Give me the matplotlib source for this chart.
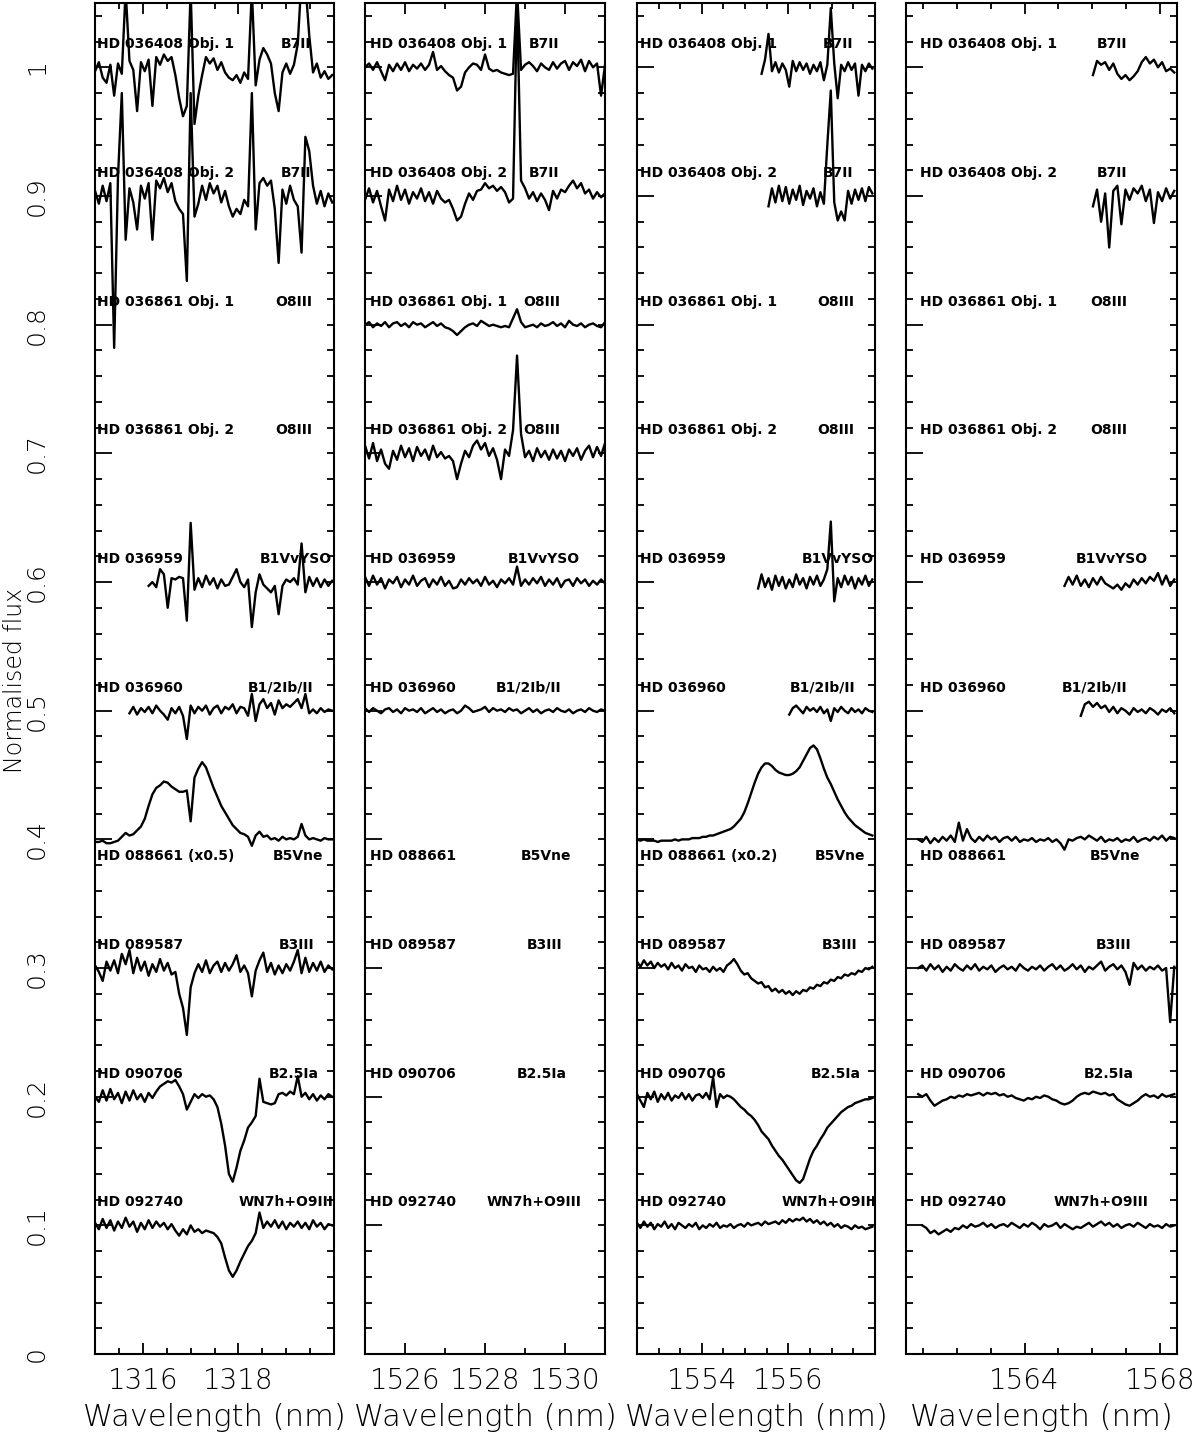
import numpy as np
import matplotlib.pyplot as plt
import matplotlib.transforms as mtransforms
from matplotlib.ticker import FixedLocator, MultipleLocator, FuncFormatter

plt.rcParams['font.family'] = ['DejaVu Sans']
plt.rcParams['font.weight'] = 'light'

# offsets of the stacked spectra and their labels
levels = [1.0, 0.9, 0.8, 0.7, 0.6, 0.5, 0.4, 0.3, 0.2, 0.1]
stars = ['HD 036408 Obj. 1', 'HD 036408 Obj. 2', 'HD 036861 Obj. 1', 'HD 036861 Obj. 2',
         'HD 036959', 'HD 036960', 'HD 088661', 'HD 089587', 'HD 090706', 'HD 092740']
sptypes = ['B7II', 'B7II', 'O8III', 'O8III', 'B1VvYSO', 'B1/2Ib/II', 'B5Vne', 'B3III',
           'B2.5Ia', 'WN7h+O9III']

# wavelength grids: start, step (nm) ; fluxes below are deviations in units of 0.001
panel_xlim = [(1315, 1320), (1525, 1531), (1552.5, 1558), (1560.5, 1568.5)]
panel_lam0 = [1315.0, 1525.0, 1552.5, 1560.5]
panel_step = [0.08, 0.1, 0.08, 0.12]
panel_major = [[1316, 1318], [1526, 1528, 1530], [1554, 1556], [1564, 1568]]
panel_minor = [0.5, 1.0, 0.5, 1.0]
panel_note = [' (x0.5)', '', ' (x0.2)', '']

# ---- panel 1 (1315-1320 nm)
p1_036408_1 = [-3, 4, -8, -12, 2, -22, 3, -5, 60, 5, -2, -34, 4, -3, 6, -30, 8, 2, 10, 5,
               8, -6, -24, -38, -30, 60, -44, -22, -6, 8, 3, 7, -2, 4, -4, -8, -10, -6, -12, -4,
               -9, 60, -14, 6, 15, 10, 3, -20, -34, -4, 3, -5, 2, 18, 70, 65, 25, -4, 3, -8,
               -3, -9, -6]
p1_036408_2 = [4, -6, 8, -4, 10, -118, 15, 80, -34, 6, -5, -26, 8, -2, 10, -34, 12, 6, 14, 3,
               10, -4, -10, -14, -66, 80, -16, -6, 8, -3, 10, 2, 8, -5, 4, -8, -16, -10, -14, -3,
               -8, 80, -26, 10, 14, 8, 12, -10, -52, 5, -6, 8, -3, -8, -44, 46, 35, 8, -6, 4,
               -8, 2, -5]
p1_036959 = [-3, 0, -4, 10, 6, -20, 3, 2, 4, 3, -30, 46, -6, 3, -4, 5, -2, 3, -5, 2,
             -3, -2, 4, 10, 0, -4, 2, -35, -8, 6, -2, -5, -8, -3, -25, -3, 2, 0, 3, -2,
             30, -8, 4, -3, 3, -4, 2, -3, 1]
p1_036960 = [-2, 3, -3, 2, -1, 3, -2, 4, 0, -3, -7, 2, -2, 3, -4, -22, 4, -2, 3, 0,
             4, -3, 2, 4, -2, 3, 1, 5, -2, 3, 2, -4, 13, -8, 5, 9, 2, 6, -3, 8,
             2, 5, 3, 6, 9, 2, 13, -2, 1, -2, 2, -1, 1, 0]
p1_088661 = [-2, -2, -1, -3, -3, -2, -1, 2, 5, 3, 4, 7, 10, 16, 26, 35, 40, 42, 45, 44,
             41, 39, 37, 37, 38, 14, 48, 55, 60, 56, 48, 40, 33, 26, 21, 16, 11, 8, 5, 4,
             2, -5, 3, 6, 2, 3, 0, 1, -1, 2, 0, 1, 0, 2, 12, 3, 0, 1, 0, -1, 1, 0, 0]
p1_089587 = [2, -3, -10, 5, -2, 6, -4, 11, 3, 14, -4, 8, -2, 5, -6, 3, -3, 7, -2, 4,
             -5, -3, -20, -31, -52, -15, -4, 3, -3, 6, -4, 2, 5, -3, 4, -2, 3, 10, -3, 2,
             -4, -22, -2, 6, 12, -3, 4, -5, 2, -4, 3, -2, 5, 14, -4, 8, -3, 4, -2, 5,
             -3, 2, -1]
p1_090706 = [0, -4, 5, -3, 6, -2, 3, -5, 4, -3, 5, -2, 2, -4, 3, -1, 4, 8, 10, 12,
             11, 13, 8, 2, -10, -4, 2, -1, 2, 0, 1, -2, -8, -21, -38, -60, -66, -55, -42, -34,
             -24, -20, -15, 14, -4, -5, -6, -5, 2, 3, 1, 4, 2, 16, 0, 3, -2, 2, -3, 1,
             -2, 2, 0]
p1_092740 = [2, -3, 5, -2, 4, -4, 3, -2, 6, -1, 3, -5, 2, -3, 4, -2, 3, -1, 2, -3,
             1, -4, -8, -3, -7, 0, -5, -3, -6, -4, -5, -6, -9, -14, -25, -35, -40, -35, -28, -22,
             -16, -12, -6, 10, -2, 3, -1, 4, -2, 3, -3, 2, -1, 3, -2, 2, -3, 4, -1, 2,
             -3, 1, 0]

# ---- panel 2 (1525-1531 nm)
p2_036408_1 = [0, 3, -2, 4, -3, -10, 2, -3, 3, -2, 4, -3, 2, -1, 3, -2, 2, 12, -2, 1,
               -3, -6, -8, -18, -15, -4, 0, 3, 2, -2, 10, -1, -3, -2, -4, -5, -6, -5, 60, -2,
               2, 4, 1, -3, 3, 0, -2, 4, -1, 3, 5, -2, 4, 1, 6, -3, 5, 0, 3, -22, 2]
p2_036408_2 = [-3, 6, -5, 4, -8, -19, 5, -4, 8, -3, 5, -6, 3, -2, 6, -4, 3, -6, 4, -2,
               -5, -3, -10, -19, -16, -6, 2, -3, 4, 5, 10, 6, 8, 4, 7, 3, -5, -2, 150, 12,
               6, -2, 3, -4, 2, -3, -11, 4, -2, 5, 3, 8, 12, 6, 10, 2, 5, -2, 3, -1, 2]
p2_036861_1 = [0, 2, -2, 1, -1, 2, -2, 1, 2, -1, 1, -2, 2, 0, 1, -2, 0, 2, -1, 1,
               -2, -3, -5, -8, -5, -2, 0, 1, -1, 3, 1, -1, 0, -1, -2, -1, -2, 5, 12, 2,
               -2, -1, 0, -2, 1, -1, 0, 2, -1, 1, -2, 3, 0, -1, 1, -2, 0, 1, -1, -2, 2]
p2_036861_2 = [6, -4, 8, -6, 3, -8, -12, 2, -5, 6, -3, 4, -6, 5, -2, 3, -5, 6, -3, 1,
               -4, -2, -6, -20, -8, 2, -3, 6, 10, 3, 8, -2, 4, -5, -20, 3, -2, 18, 76, 15,
               -3, 2, -6, 4, -3, 2, -5, 3, -4, 2, -6, 3, -2, 4, -5, 2, 6, -3, 5, -2, 8]
p2_036959 = [4, -3, 5, -2, 3, -5, 2, -1, 4, -4, 2, -2, 5, -3, 1, 3, -4, 2, -2, 4,
             -3, 1, -5, -4, 2, -2, 3, -1, 2, -3, 4, -2, 1, -4, 2, -1, 3, -2, 12, -3,
             2, -2, 3, -1, 4, -3, 2, -2, 3, -4, 1, 2, -3, 3, -1, 2, -3, 1, -2, 2, -1]
p2_036960 = [2, -1, 2, 0, -2, 1, 2, -1, 1, -2, 2, 0, 1, -1, 2, -2, 0, 2, -1, 1,
             -2, 0, 1, -2, 0, 4, 2, -1, 0, 1, 3, -1, 2, 0, 1, -1, 2, 0, 1, -2,
             0, 2, -1, 1, -2, 0, 1, -1, 2, 0, -1, 1, -2, 0, 1, -1, 2, 0, -1, 1, 0]

# ---- panel 3 (1552.5-1558 nm)
p3_036408_1 = [-5, 6, 26, -3, 4, -4, 3, -2, -15, 5, -3, 4, -2, 3, -5, 2, -3, 4, -10, 2,
               46, 3, -24, 2, -3, 4, -2, 3, -22, 2, -3, 3, -1]
p3_036408_2 = [-8, 6, -5, 8, -4, 7, -6, 5, -3, 8, -7, 4, -2, 6, -8, 3, -6, 40, 82, -5,
               -19, -12, -19, 4, -6, 5, -3, 6, -4, 7, 2]
p3_036959 = [-5, 6, -4, 3, -6, 5, -3, 4, -5, 2, -4, 6, -2, 3, -5, 4, -2, 5, -3, 2,
             10, 47, -15, 3, -4, 5, -2, 4, -5, 3, -2, 5, -3, 2]
p3_036960 = [-3, 2, 4, 1, -2, 3, 0, 2, -1, 3, -2, 1, -8, 2, -1, 3, 0, -2, 2, -1,
             1, -2, 2, 0, -1]
p3_088661 = [0, -1, 0, -1, -1, -1, -2, -1, -1, -1, -1, 0, -1, 0, 0, 0, 1, 1, 1, 2,
             2, 3, 3, 4, 5, 6, 7, 8, 10, 13, 16, 21, 28, 36, 44, 51, 56, 59, 59, 57,
             54, 52, 51, 50, 50, 51, 53, 56, 61, 66, 71, 73, 70, 63, 55, 48, 43, 37, 31, 26,
             21, 17, 14, 11, 9, 7, 5, 4, 3]
p3_089587 = [5, 1, 6, 2, 5, 0, 4, 1, 3, -1, 4, 0, 2, -2, 3, 0, 1, -3, 2, -1,
             0, -3, 1, -2, 0, -3, 2, 4, 7, 3, -2, -5, -4, -8, -10, -12, -11, -15, -14, -18,
             -16, -19, -17, -20, -18, -21, -18, -20, -17, -18, -15, -16, -13, -14, -11, -12, -9, -10, -7, -8,
             -5, -6, -4, -5, -2, -3, 0, -1, 1]
p3_090706 = [2, -3, -8, 3, -2, 4, -4, 2, -2, 3, -3, 1, -1, 3, -2, 2, -3, 1, 2, -1,
             3, -2, 15, -8, 2, -1, 1, 0, -2, -5, -8, -10, -13, -15, -18, -22, -27, -30, -33, -38,
             -42, -46, -49, -53, -57, -61, -65, -67, -64, -56, -48, -42, -38, -33, -29, -24, -21, -18, -15, -12,
             -10, -8, -7, -5, -4, -3, -2, -2, -1]
p3_092740 = [2, -2, 3, -1, 2, -3, 1, -1, 3, -2, 1, -3, 2, 0, -2, 1, -1, 2, -3, 0,
             -2, 1, -1, 2, -2, 0, -1, 1, -2, 0, 1, -1, 2, 0, 1, 2, 0, 3, 1, 2,
             3, 1, 4, 2, 5, 3, 5, 4, 6, 3, 5, 2, 4, 1, 3, 0, 2, -1, 1, -2,
             0, -1, -3, 0, -2, -1, -3, -2, -1]

# ---- panel 4 (1560.5-1568.5 nm)
p4_036408_1 = [-6, 5, 2, 4, -2, 3, -5, -9, -6, -10, -7, -3, 4, 8, 3, 6, 0, 4, -3, -1, -4]
p4_036408_2 = [-8, 5, -20, 2, -40, 4, 8, -22, 5, -3, 6, 2, 8, -4, 5, -21, 3, -4, 6, -2, 4]
p4_036959 = [-3, 4, -2, 5, -3, 2, -4, 3, -2, 4, -1, -3, -5, -2, -6, -1, -4, 2, -2, 3,
             -1, 4, 1, 7, -2, 5, -3, 2]
p4_036960 = [-4, 5, 7, 3, 6, 2, 4, -1, 3, -2, 2, 0, -3, 2, -1, 1, -2, 2, 0, -3, 1, -1, 2, -2]
p4_088661 = [0, -2, 2, -3, 1, -2, 2, -1, 3, -2, 13, -1, 8, 1, -2, 2, -1, 3, 0, 2,
             -2, 1, 2, -1, 2, -2, 0, -1, 1, -2, 0, -1, 1, -2, 0, -3, -8, 0, -1, 1,
             2, 0, 3, 1, -1, 2, -2, 0, -1, 1, -2, 0, -1, 2, -2, 0, 1, -1, 2, 0,
             3, -1, 2, 1]
p4_089587 = [0, 2, -2, 3, -1, 2, -3, 1, -2, 3, 0, -2, 2, -1, 3, -2, 1, -1, 2, -3,
             0, 2, -1, 1, -2, 3, 0, -2, 1, -1, 2, -2, 1, 3, -1, 2, -2, 0, 3, -1,
             2, -3, 1, -1, 2, 5, -2, 1, 3, -1, 2, -3, -13, 4, -1, 2, -2, 1, -1, 2,
             -2, 0, -42, 1]
p4_090706 = [2, 0, 2, -3, -7, -5, -3, -2, 0, -1, 1, 0, 2, 1, 2, 3, 1, 3, 2, 3,
             1, 2, 0, 1, -1, -2, -3, -1, -2, 0, -1, 1, 0, -2, -3, -5, -6, -5, -3, 0,
             2, 3, 2, 4, 3, 2, 3, 1, 2, -2, -4, -6, -7, -5, -3, 0, 2, 0, 1, -1,
             2, 0, 1, 2]
p4_092740 = [0, -2, -6, -4, -7, -5, -3, -5, -2, -3, 0, -2, 1, -1, 0, 2, -1, 1, -2, 0,
             1, -1, 2, 0, -2, 1, -1, 2, 0, -3, 1, -1, 0, 2, -2, 1, -1, -3, -1, -2,
             0, 2, -1, 1, 3, 0, 2, -1, 1, -2, 0, 1, -1, 2, 0, -2, 1, -1, 0, -2,
             1, -1, 0]

# star index -> (first grid index, values)
panel_spectra = [
    {0: (0, p1_036408_1), 1: (0, p1_036408_2), 4: (14, p1_036959), 5: (9, p1_036960),
     6: (0, p1_088661), 7: (0, p1_089587), 8: (0, p1_090706), 9: (0, p1_092740)},
    {0: (0, p2_036408_1), 1: (0, p2_036408_2), 2: (0, p2_036861_1), 3: (0, p2_036861_2),
     4: (0, p2_036959), 5: (0, p2_036960)},
    {0: (36, p3_036408_1), 1: (38, p3_036408_2), 4: (35, p3_036959), 5: (44, p3_036960),
     6: (0, p3_088661), 7: (0, p3_089587), 8: (0, p3_090706), 9: (0, p3_092740)},
    {0: (46, p4_036408_1), 1: (46, p4_036408_2), 4: (39, p4_036959), 5: (43, p4_036960),
     6: (3, p4_088661), 7: (3, p4_089587), 8: (3, p4_090706), 9: (4, p4_092740)},
]

rects = [[0.0792, 0.0564, 0.1992, 0.9415],
         [0.3042, 0.0564, 0.2000, 0.9415],
         [0.5308, 0.0564, 0.1983, 0.9415],
         [0.7550, 0.0564, 0.2258, 0.9415]]
name_x = [0.008, 0.02, 0.012, 0.05]
type_x = [0.835, 0.74, 0.84, 0.755]
type_dx = [0.005, 0.005, -0.005, -0.005, 0.005, -0.06, 0.015, 0.01, -0.005, -0.035]

fig = plt.figure(figsize=(12, 14.35), dpi=100)

for p, rect in enumerate(rects):
    ax = fig.add_axes(rect)
    for k, (i0, vals) in panel_spectra[p].items():
        lam = panel_lam0[p] + panel_step[p] * (i0 + np.arange(len(vals)))
        ax.plot(lam, levels[k] + np.array(vals) / 1000.0, color='black', lw=1.7)

    ax.set_xlim(*panel_xlim[p])
    ax.set_ylim(0, 1.05)
    ax.xaxis.set_major_locator(FixedLocator(panel_major[p]))
    ax.xaxis.set_minor_locator(MultipleLocator(panel_minor[p]))
    ax.xaxis.set_major_formatter(FuncFormatter(lambda v, pos: '%d' % round(v)))
    ax.yaxis.set_major_locator(MultipleLocator(0.1))
    ax.yaxis.set_minor_locator(MultipleLocator(0.02))
    ax.yaxis.set_major_formatter(FuncFormatter(lambda v, pos: '%g' % round(v, 2)))

    ax.tick_params(which='both', direction='in', top=True, right=True, width=1.3,
                   labelleft=(p == 0))
    ax.tick_params(axis='x', which='major', length=8, pad=9, labelsize=20)
    ax.tick_params(axis='x', which='minor', length=4)
    ax.tick_params(axis='y', which='major', length=12, pad=33, labelsize=18, labelrotation=90)
    ax.tick_params(axis='y', which='minor', length=5)
    for t in ax.yaxis.get_major_ticks():
        t.tick2line.set_markersize(5)
    for lab in ax.get_yticklabels():
        lab.set_va('center')
    for s in ax.spines.values():
        s.set_linewidth(1.5)

    trans = mtransforms.blended_transform_factory(ax.transAxes, ax.transData)
    for k in range(len(stars)):
        name = stars[k]
        y = levels[k] + 0.018
        if k == 6:
            name = name + panel_note[p]
            y = levels[k] - 0.013
        ax.text(name_x[p], y, name, transform=trans, ha='left', va='center',
                fontsize=10, fontweight='bold', zorder=1)
        ax.text(type_x[p] + type_dx[k], y, sptypes[k], transform=trans, ha='center',
                va='center', fontsize=10, fontweight='bold', zorder=1)

    fig.text(rect[0] + rect[2] / 2, 0.0125, 'Wavelength (nm)', ha='center', va='center',
             fontsize=22)

fig.text(0.0125, 0.526, 'Normalised flux', rotation=90, ha='center', va='center', fontsize=17)

fig.savefig('out.png', dpi=100)
